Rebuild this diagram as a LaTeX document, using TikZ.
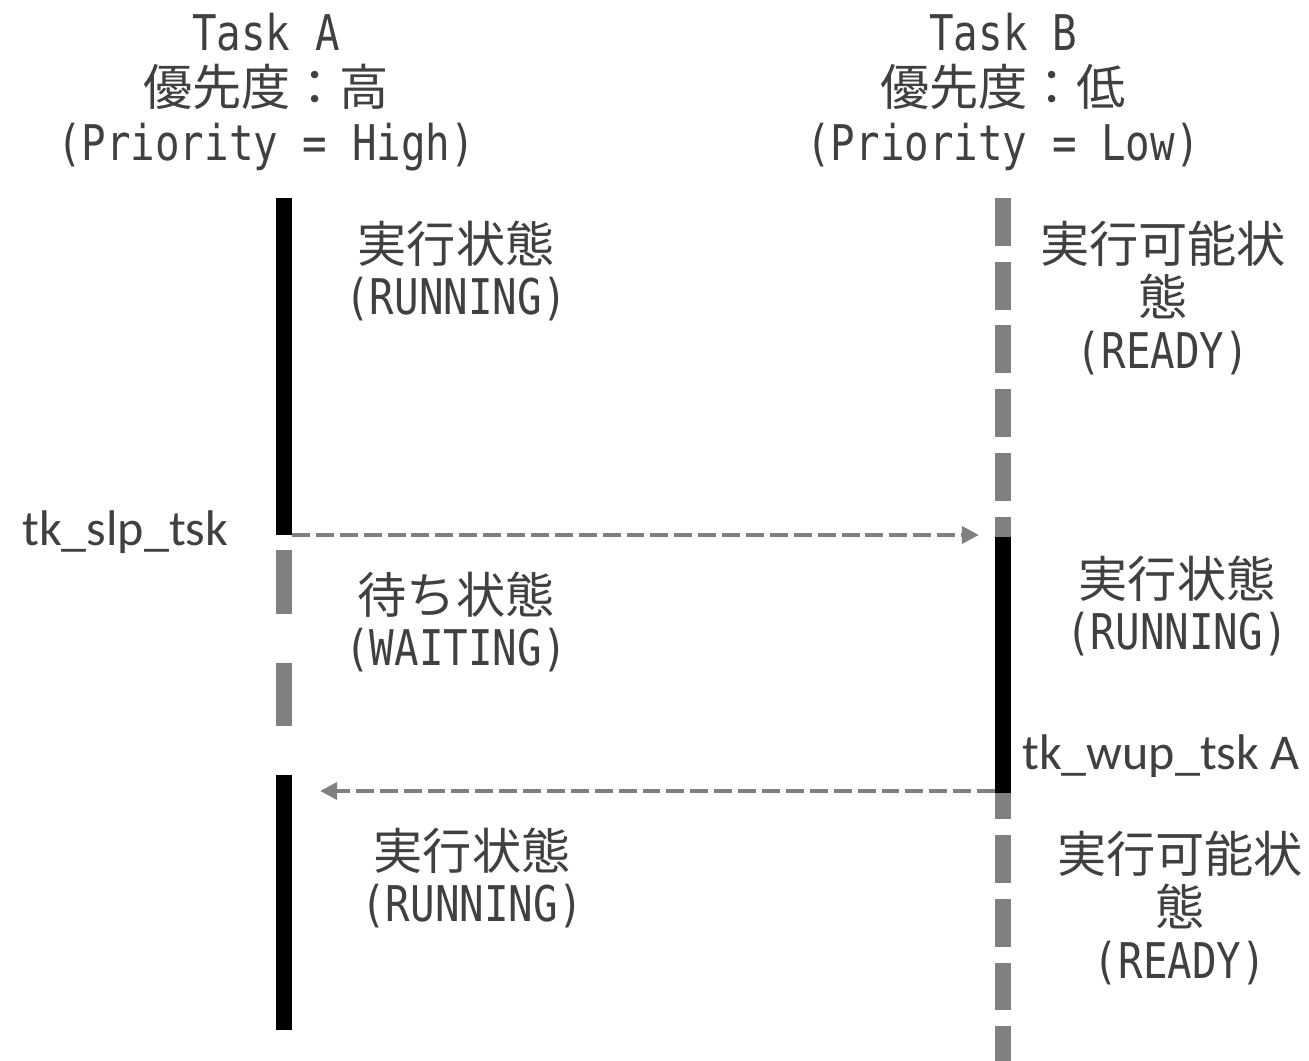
\documentclass[tikz,border=0pt]{standalone}
\usepackage[RGB]{xcolor}
\usepackage{fontspec}
\usetikzlibrary{arrows.meta}
\newfontfamily\jpfont{Noto Sans CJK JP}
\newfontfamily\halffont[FakeStretch=0.83]{DejaVu Sans Mono}
\newfontfamily\callfont{Carlito}
\definecolor{txt}{RGB}{64,64,64}
\definecolor{W}{RGB}{128,128,128}
\newcommand{\drawrun}{\draw[line width=9.07pt]}
\newcommand{\drawwait}{\draw[line width=9.07pt,W]}
\newcommand{\statelines}[2]{{\jpfont #1}\\{\halffont (#2)}}
\tikzset{
  statetext/.style={text=txt, align=center, inner sep=0pt, font=\fontsize{28}{30}\selectfont},
  headtext/.style={statetext, font=\fontsize{28}{31.2}\selectfont},
  calltext/.style={text=txt, inner sep=0pt, anchor=base west, font=\callfont\fontsize{28.5}{30}\selectfont},
  msg/.style={W, line width=2.6pt, dash pattern=on 10.2pt off 3.4pt,
    -{Triangle[length=9.8pt,width=9.6pt]}}
}

\begin{document}
\begin{tikzpicture}[x=0.02cm,y=-0.02cm]
\useasboundingbox (0,0) rectangle (1309,1061);
% task heads
\node[headtext] (taskA) at (266,92) {{\halffont Task A}\\{\jpfont 優先度：高}\\{\halffont (Priority = High)}};
\node[headtext] (taskB) at (1003,92) {{\halffont Task B}\\{\jpfont 優先度：低}\\{\halffont (Priority = Low)}};
% life lines
\coordinate (aStart) at (284,198); \coordinate (aSleep) at (284,535);
\coordinate (aWait) at (284,550); \coordinate (aWaitEnd) at (284,727);
\coordinate (aWake) at (284,775); \coordinate (aEnd) at (284,1030);
\coordinate (bStart) at (1003,198); \coordinate (bRun) at (1003,537);
\coordinate (bStop) at (1003,793); \coordinate (bEnd) at (1003,1078);
\drawrun (aStart)--(aSleep);
\drawwait[dash pattern=on 36.3pt off 27.8pt] (aWait)--(aWaitEnd);
\drawrun (aWake)--(aEnd);
\drawwait[dash pattern=on 27.2pt off 9.07pt] (bStart)--(bEnd);
\drawrun (bRun)--(bStop);
% states
\node[statetext] (runA1) at (456,271) {\statelines{実行状態}{RUNNING}};
\node[statetext] (readyB1) at (1163,298) {{\jpfont 実行可能状}\\{\jpfont 態}\\{\halffont (READY)}};
\node[statetext] (waitA) at (456,622) {\statelines{待ち状態}{WAITING}};
\node[statetext] (runB) at (1177,606) {\statelines{実行状態}{RUNNING}};
\node[statetext] (runA2) at (472,878) {\statelines{実行状態}{RUNNING}};
\node[statetext] (readyB2) at (1180,908) {{\jpfont 実行可能状}\\{\jpfont 態}\\{\halffont (READY)}};
% service calls
\node[calltext] (slp) at (22,545) {tk\_slp\_tsk};
\node[calltext] (wup) at (1022,769) {tk\_wup\_tsk A};
\coordinate (slpFrom) at (292,535); \coordinate (slpTo) at (979,535);
\coordinate (wupFrom) at (995,791); \coordinate (wupTo) at (320,791);
\draw[msg] (slpFrom)--(slpTo);
\draw[msg] (wupFrom)--(wupTo);
\end{tikzpicture}
\end{document}
